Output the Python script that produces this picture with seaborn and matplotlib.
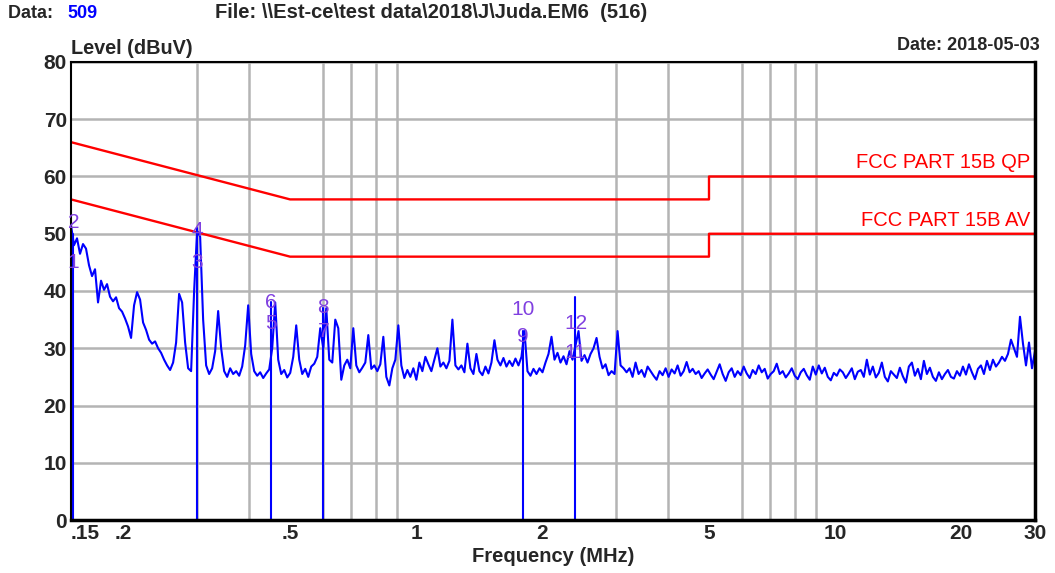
import numpy as np
import pandas as pd
import matplotlib
matplotlib.use("Agg")
import matplotlib.pyplot as plt
import seaborn as sns

# Conducted emission scan, level in dBuV (log-spaced sweep from 0.15 to 30 MHz)
scan_level = [
    51.5, 48.0, 49.2, 46.5, 48.2, 47.4, 44.5, 42.6, 43.8, 38.0,
    41.8, 40.2, 41.2, 39.0, 38.2, 38.9, 37.0, 36.4, 35.2, 33.8,
    31.8, 37.5, 39.8, 38.5, 34.5, 33.2, 31.5, 30.8, 31.2, 30.0,
    29.2, 28.0, 27.0, 26.2, 27.5, 31.0, 39.5, 38.0, 31.0, 26.5,
    26.0, 40.0, 50.5, 49.5, 35.0, 27.0, 25.5, 26.5, 29.5, 36.5,
    30.0, 26.0, 25.0, 26.5, 25.5, 26.0, 25.2, 26.8, 30.5, 37.5,
    29.0, 26.0, 25.2, 25.8, 24.8, 25.6, 26.3, 30.0, 38.0, 28.0,
    25.5, 26.2, 24.9, 25.7, 28.5, 34.0, 28.0, 25.5, 26.4, 25.0,
    26.8, 27.3, 28.5, 33.5, 30.0, 37.0, 28.0, 27.5, 35.0, 33.5,
    24.5, 27.0, 28.0, 26.5, 33.5, 27.0, 25.8, 26.6, 27.5, 32.3,
    26.4, 27.0, 26.0, 27.2, 32.0, 25.0, 23.5, 26.5, 28.0, 34.0,
    27.0, 24.8, 26.2, 25.0, 26.5, 24.5, 27.5, 26.0, 28.5, 27.2,
    26.0, 28.0, 30.0, 26.8, 27.5, 26.5, 27.8, 35.0, 27.0, 26.3,
    27.0, 25.8, 30.8, 26.5, 25.5, 29.0, 26.0, 25.3, 26.8, 25.6,
    27.5, 31.4, 28.0, 27.0, 28.3, 26.8, 27.8, 26.9, 28.2, 27.0,
    28.5, 33.0, 26.0, 25.2, 26.4, 25.5, 26.5, 25.8, 27.5, 29.0,
    32.0, 28.0, 29.2, 27.5, 28.6, 27.2, 29.5, 28.0, 30.5, 33.0,
    27.8, 28.8, 27.5, 29.0, 30.0, 31.8, 28.5, 26.5, 27.2, 25.3,
    26.0, 25.5, 33.0, 27.0, 26.5, 25.8, 26.5, 25.0, 27.5, 25.5,
    26.2, 25.0, 26.8, 26.0, 25.2, 24.5, 26.0, 25.3, 26.5, 25.0,
    26.3, 25.6, 27.0, 25.2, 26.0, 27.6, 25.8, 26.4, 25.5, 26.0,
    24.8, 25.6, 26.3, 25.4, 24.6, 25.9, 27.2, 25.5, 24.3, 25.8,
    26.5, 25.0, 26.0, 25.3, 26.8, 25.6, 24.8, 26.2, 25.5, 27.0,
    25.8, 26.4, 24.7, 25.5, 26.0, 27.3, 25.5, 26.0, 24.9, 25.6,
    26.5, 25.2, 24.6, 25.8, 26.4, 25.3, 24.5, 26.8, 25.4, 27.0,
    25.6, 26.6, 25.0, 24.4, 25.7, 25.2, 26.3, 25.8, 24.8, 25.6,
    26.5, 24.6, 25.9, 26.2, 25.0, 28.0, 25.4, 26.8, 24.9, 25.7,
    27.5, 25.0, 24.2, 26.0, 25.4, 24.8, 26.6, 25.1, 24.0, 26.8,
    27.5, 25.2, 26.4, 24.6, 27.8, 25.5, 26.6, 25.0, 24.3, 25.8,
    24.6, 25.5, 26.2, 25.0, 24.7, 26.0, 25.2, 26.8, 25.4, 27.2,
    25.8, 24.6, 26.4, 27.0, 25.5, 27.8, 26.2, 28.0, 26.8, 27.5,
    28.5, 27.8, 29.0, 31.5, 30.0, 28.5, 35.5, 30.8, 27.0, 31.0,
    26.5, 29.5,
]
scan_start_mhz = 0.15
scan_stop_mhz = 30.0

# FCC Part 15B class B conducted limits
limit_freq = [0.15, 0.5, 5.0, 5.0, 30.0]
qp_limit = [66, 56, 56, 60, 60]
av_limit = [56, 46, 46, 50, 50]

# Marker readings: frequency, QP / AV levels, spot-measurement peak
marker_freq = [0.152, 0.300, 0.450, 0.600, 1.800, 2.400]
marker_qp = [52.0, 50.5, 38.0, 37.2, 36.8, 34.4]
marker_av = [45.0, 45.0, 34.3, 33.0, 32.0, 29.3]
marker_peak = [50.0, 51.0, 38.0, 37.0, 33.0, 39.0]

x_ticks = [0.15, 0.2, 0.5, 1, 2, 5, 10, 20, 30]
x_tick_labels = [".15", ".2", ".5", "1", "2", "5", "10", "20", "30"]
x_grid = [0.2, 0.3, 0.4, 0.5, 0.6, 0.7, 0.8, 0.9, 1, 2, 3, 4, 5, 6, 7, 8, 9, 10, 20, 30]
y_ticks = [0, 10, 20, 30, 40, 50, 60, 70, 80]

sns.set_style("white")
plt.rcParams["font.family"] = ["Liberation Sans", "DejaVu Sans"]

scan = pd.DataFrame({
    "freq": np.geomspace(scan_start_mhz, scan_stop_mhz, len(scan_level)),
    "level": scan_level,
})
limits = pd.DataFrame({"freq": limit_freq, "qp": qp_limit, "av": av_limit})

fig = plt.figure(figsize=(10.55, 5.73), dpi=100)
ax = fig.add_axes([71 / 1055, 1 - 520 / 573, (1035 - 71) / 1055, (520 - 62) / 573])

ax.set_xscale("log")
ax.set_xlim(0.15, 30)
ax.set_ylim(0, 80)

# grid
ax.set_xticks(x_ticks)
ax.set_xticklabels(x_tick_labels)
ax.set_xticks(x_grid, minor=True)
ax.set_yticks(y_ticks)
ax.grid(True, which="minor", axis="x", color="#b4b4b4", lw=1.8)
ax.grid(True, which="major", axis="y", color="#b4b4b4", lw=1.8)
ax.set_axisbelow(True)
ax.tick_params(which="both", length=0)
ax.tick_params(axis="both", labelsize=15)
for lbl in ax.get_xticklabels() + ax.get_yticklabels():
    lbl.set_fontweight("bold")
ax.get_xticklabels()[0].set_horizontalalignment("left")
ax.tick_params(axis="x", pad=3)
ax.tick_params(axis="y", pad=3)

# limit lines
sns.lineplot(data=limits, x="freq", y="qp", ax=ax, color="#ff0000", lw=1.7,
             estimator=None, sort=False)
sns.lineplot(data=limits, x="freq", y="av", ax=ax, color="#ff0000", lw=1.7,
             estimator=None, sort=False)

# spectrum trace
sns.lineplot(data=scan, x="freq", y="level", ax=ax, color="#0000ff", lw=1.5,
             estimator=None, sort=False)

# marker spot lines
for f, top in zip(marker_freq, marker_peak):
    ax.plot([f, f], [0, top], color="#0000ff", lw=1.5)

# marker numbers
for i, (f, qp, av) in enumerate(zip(marker_freq, marker_qp, marker_av)):
    ax.text(f, av, str(2 * i + 1), color="#8040e0", fontsize=15,
            ha="center", va="center")
    ax.text(f, qp, str(2 * i + 2), color="#8040e0", fontsize=15,
            ha="center", va="center")

ax.text(29.3, qp_limit[-1] + 0.7, "FCC PART 15B QP", color="#ff0000",
        fontsize=14.5, ha="right", va="bottom")
ax.text(29.3, av_limit[-1] + 0.7, "FCC PART 15B AV", color="#ff0000",
        fontsize=14.5, ha="right", va="bottom")

ax.set_xlabel("Frequency (MHz)", fontsize=14.5, fontweight="bold", labelpad=3)
ax.set_ylabel("")

for side in ["left", "top"]:
    ax.spines[side].set_linewidth(1.5)
    ax.spines[side].set_color("black")
for side in ["right", "bottom"]:
    ax.spines[side].set_linewidth(2.5)
    ax.spines[side].set_color("black")

# header texts
fig.text(8 / 1055, 1 - 13 / 573, "Data: ", fontsize=13, fontweight="bold",
         va="center", ha="left")
fig.text(67 / 1055, 1 - 13 / 573, "509", fontsize=13, fontweight="bold",
         va="center", ha="left", color="#0000ff")
fig.text(215 / 1055, 1 - 13 / 573, "File: \\\\Est-ce\\test data\\2018\\J\\Juda.EM6  (516)",
         fontsize=14.5, fontweight="bold", va="center", ha="left")
fig.text(71 / 1055, 1 - 48 / 573, "Level (dBuV)", fontsize=14.3, fontweight="bold",
         va="center", ha="left")
fig.text(1040 / 1055, 1 - 45 / 573, "Date: 2018-05-03", fontsize=13,
         fontweight="bold", va="center", ha="right")

fig.savefig("out.png", dpi=100, facecolor="white")
